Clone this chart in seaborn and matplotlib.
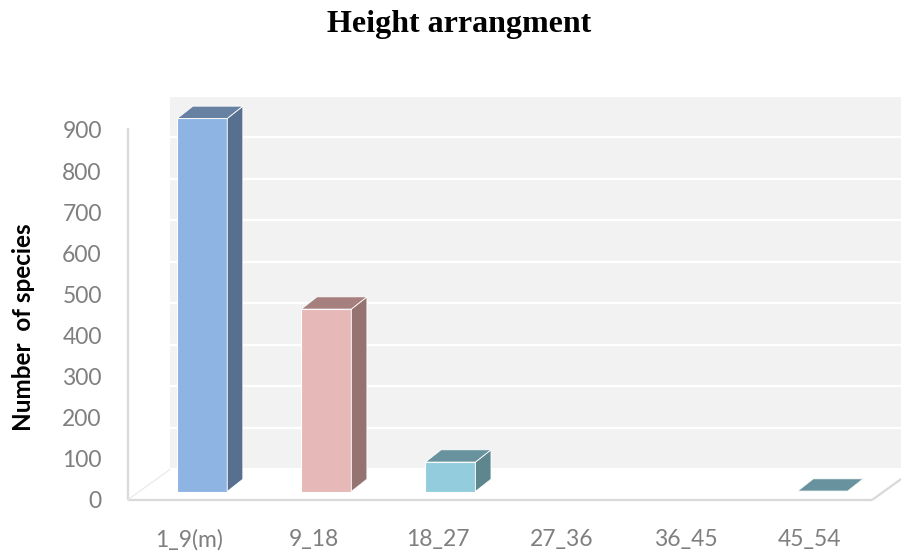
import matplotlib
matplotlib.use("Agg")
import matplotlib.pyplot as plt
from matplotlib.patches import Polygon
import seaborn as sns
import pandas as pd

# Data
categories = ["1_9(m)", "9_18", "18_27", "27_36", "36_45", "45_54"]
species_counts = [900, 440, 71, 0, 0, 1]
y_ticks = [0, 100, 200, 300, 400, 500, 600, 700, 800, 900]

# Face colours per bar: front, top, side
front_colors = ["#8EB4E3", "#E6B8B7", "#93CDDD", "#B3A2C7", "#FAC090", "#93CDDD"]
top_colors = ["#6781A3", "#A6807E", "#68939E", "#80749A", "#B38A68", "#68939E"]
side_colors = ["#57708F", "#957371", "#5E868F", "#706587", "#9D795B", "#5E868F"]

plt.rcParams["font.family"] = ["Lato", "DejaVu Sans"]

W, H = 901, 558
fig = plt.figure(figsize=(W / 100, H / 100), dpi=100)


def frac(left_px, top_px, right_px, bottom_px):
    """Axes rectangle in figure fraction from pixel edges (origin top-left)."""
    return [left_px / W, 1 - bottom_px / H,
            (right_px - left_px) / W, (bottom_px - top_px) / H]


# Front plane of the box (axis labels live here)
x0, x1 = 127.5, 872.0
y_front0, y_front900 = 500.0, 130.0
cat_px = (x1 - x0) / 6.0
front_scale = (y_front0 - y_front900) / 900.0

# ---- back wall with gridlines ----
ax_back = fig.add_axes(frac(170, 96, 901, 469.4), zorder=0)
ax_back.set_facecolor("#F2F2F2")
ax_back.set_xlim(0, 1)
ax_back.set_ylim(0, 900)
ax_back.set_yticks(y_ticks)
ax_back.grid(axis="y", color="white", lw=1.6)
ax_back.tick_params(left=False, bottom=False, labelleft=False, labelbottom=False)
for s in ax_back.spines.values():
    s.set_visible(False)

# ---- front plane: floor, left wall edge, tick labels ----
ax = fig.add_axes(frac(x0, y_front900, x1, y_front0), zorder=1)
ax.patch.set_visible(False)
ax.set_xlim(-0.5, 5.5)
ax.set_ylim(0, 900)
ax.set_xticks(range(len(categories)), labels=categories)
ax.set_yticks(y_ticks, labels=[str(v) for v in y_ticks])
ax.tick_params(axis="both", length=0, colors="#7F7F7F", labelsize=16.5)
ax.tick_params(axis="x", pad=21)
ax.tick_params(axis="y", pad=18.5)
for s in ax.spines.values():
    s.set_visible(False)

fdx = 42.5 / cat_px
fdy = 30.6 / front_scale
floor = Polygon([(-0.5, 0), (5.5, 0), (5.5 + fdx, fdy), (-0.5 + fdx, fdy)],
                closed=True, facecolor="white", edgecolor="none",
                clip_on=False, zorder=1)
ax.add_patch(floor)
edge_kw = dict(color="#D9D9D9", clip_on=False, zorder=2, solid_capstyle="butt")
ax.plot([-0.5, 5.5], [0, 0], lw=1.6, **edge_kw)
ax.plot([5.5, 5.5 + fdx], [0, fdy], lw=1.6, **edge_kw)
ax.plot([-0.5, -0.5], [0, 905], lw=1.6, **edge_kw)
ax.plot([-0.5, -0.5 + fdx], [0, fdy], lw=0.8, color="#E8E8E8",
        clip_on=False, zorder=2)

# ---- bars (front faces) ----
bar_dx, bar_dy = 12.7, 8.5
bar_scale = 0.4145
bar_base = y_front0 - bar_dy
ax_bar = fig.add_axes(frac(x0 + bar_dx, bar_base - 900 * bar_scale,
                           x1 + bar_dx, bar_base), zorder=2)
df = pd.DataFrame({"range": categories, "count": species_counts})
sns.barplot(data=df, x="range", y="count", hue="range", palette=front_colors,
            width=50 / cat_px, saturation=1, errorbar=None, legend=False,
            edgecolor="white", linewidth=0.8, ax=ax_bar)
ax_bar.set_xlim(-0.5, 5.5)
ax_bar.set_ylim(0, 900)
ax_bar.axis("off")

# Top and side faces extruded from each bar
ddx = 15.6 / cat_px
ddy = 12.3 / bar_scale
bars = sorted(ax_bar.patches, key=lambda p: p.get_x())
for patch, top_c, side_c in zip(bars, top_colors, side_colors):
    h = patch.get_height()
    if h <= 0:
        continue
    x = patch.get_x()
    w = patch.get_width()
    side = Polygon([(x + w, 0), (x + w, h), (x + w + ddx, h + ddy), (x + w + ddx, ddy)],
                   closed=True, facecolor=side_c, edgecolor="white", lw=0.6,
                   clip_on=False, zorder=3)
    top = Polygon([(x, h), (x + w, h), (x + w + ddx, h + ddy), (x + ddx, h + ddy)],
                  closed=True, facecolor=top_c, edgecolor="white", lw=0.6,
                  clip_on=False, zorder=3)
    ax_bar.add_patch(side)
    ax_bar.add_patch(top)

# ---- titles ----
fig.text(459 / W, 1 - 31.7 / H, "Height arrangment", family="Liberation Serif",
         fontweight="bold", fontsize=23, ha="center", va="baseline", color="black")
fig.text(23.5 / W, 1 - 326.7 / H, "Number  of species", rotation=90,
         fontweight="bold", fontsize=17.5, ha="center", va="center", color="black")

fig.savefig("out.png", dpi=100)
